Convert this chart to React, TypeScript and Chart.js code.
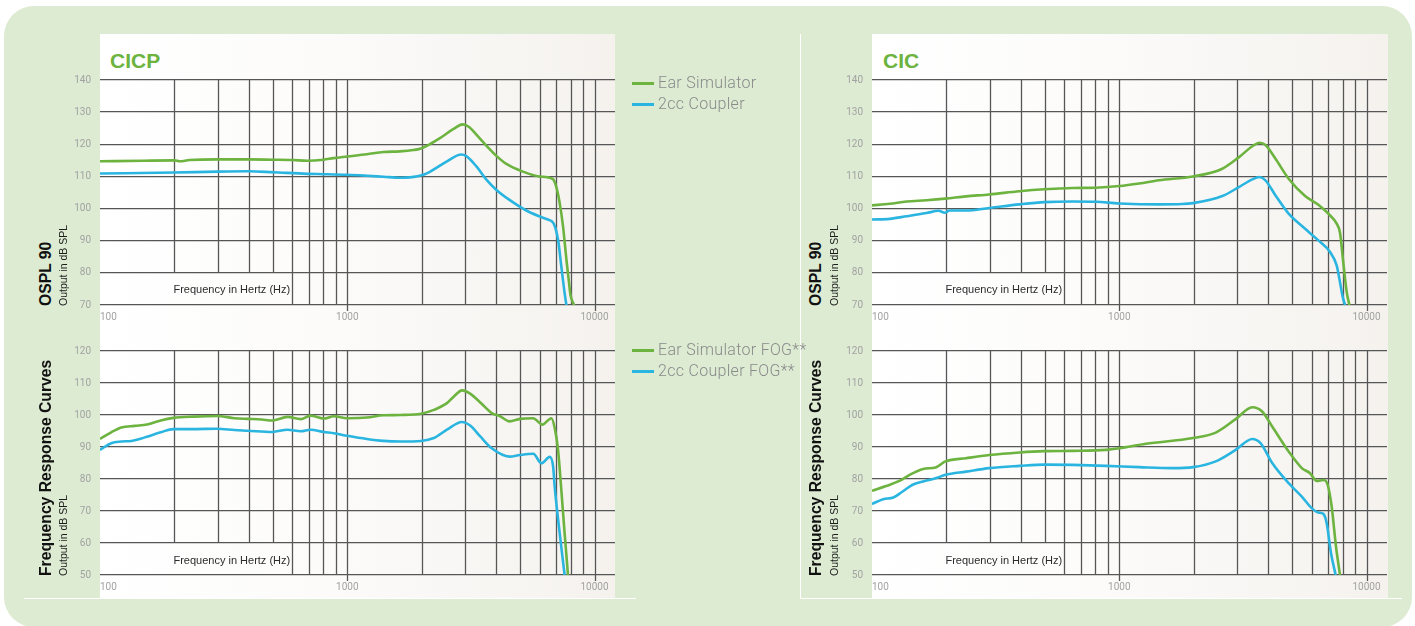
import React, { useEffect, useRef } from "react";
import { Chart, registerables } from "chart.js";

Chart.register(...registerables);

// ---------- data ----------
const X_MIN = 100;
const X_MAX = 12100;
const X_GRID_HZ = [200, 300, 400, 500, 600, 700, 800, 900, 1000, 2000, 3000, 4000, 5000, 6000, 7000, 8000, 9000, 10000];
const X_SHORT_GRID_HZ = [200, 300, 400, 500];
const X_LONG_GRID_HZ = [1000, 10000];
const X_TICK_LABEL_HZ = [100, 1000, 10000];
const OSPL_RANGE = [70, 140];
const FOG_RANGE = [50, 120];
const X_CAPTION = "Frequency in Hertz (Hz)";

// CICP – OSPL 90
const CICP_OSPL_EAR_HZ = [100, 150, 200, 210, 230, 300, 400, 500, 600, 690, 800, 880, 1000, 1200, 1400, 1630, 1850, 1970, 2200, 2370, 2680, 2930, 3110, 3300, 3530, 4010, 4400, 5130, 5970, 6780, 7000, 7230, 7460, 7700, 7890, 7990, 8260, 8400];
const CICP_OSPL_EAR_DB = [114.7, 114.9, 115.0, 114.7, 115.1, 115.3, 115.3, 115.2, 115.1, 114.9, 115.2, 115.7, 116.2, 116.9, 117.6, 117.8, 118.2, 118.6, 120.4, 121.9, 124.7, 126.2, 125.4, 123.3, 120.8, 116.4, 113.9, 111.5, 110.0, 109.2, 106.8, 101.7, 94.4, 84.0, 76.8, 73.2, 70.0, 68.5];
const CICP_OSPL_CPL_HZ = [100, 200, 300, 400, 500, 690, 800, 1000, 1200, 1400, 1640, 1790, 2030, 2220, 2520, 2890, 3030, 3330, 3660, 4010, 4530, 5300, 5970, 6470, 6830, 7120, 7340, 7570, 7700, 7800];
const CICP_OSPL_CPL_DB = [110.9, 111.2, 111.5, 111.6, 111.3, 110.8, 110.7, 110.5, 110.2, 109.9, 109.6, 109.7, 110.5, 112.0, 114.6, 116.8, 116.3, 113.1, 108.9, 105.8, 102.7, 99.4, 97.6, 96.6, 95.4, 90.3, 82.0, 73.7, 70.0, 68.5];

// CICP – Frequency response (FOG)
const CICP_FOG_EAR_HZ = [100, 111, 122, 138, 155, 176, 198, 240, 298, 350, 395, 450, 498, 573, 649, 710, 803, 883, 1000, 1200, 1400, 1640, 1990, 2240, 2530, 2700, 2910, 3140, 3450, 3840, 4150, 4530, 5000, 5650, 6150, 6690, 6900, 7120, 7340, 7570, 7810];
const CICP_FOG_EAR_DB = [92.5, 94.6, 96.1, 96.6, 97.0, 98.3, 99.1, 99.5, 99.7, 99.0, 98.8, 98.6, 98.3, 99.4, 98.7, 99.8, 98.9, 99.6, 99.0, 99.2, 99.9, 100.0, 100.4, 101.6, 103.7, 105.8, 107.7, 106.7, 103.9, 100.6, 99.6, 98.0, 98.8, 99.0, 97.0, 99.0, 96.0, 89.1, 76.6, 63.0, 50.0];
const CICP_FOG_CPL_HZ = [100, 111, 122, 134, 146, 156, 176, 198, 240, 298, 350, 395, 498, 573, 649, 710, 803, 883, 1000, 1200, 1400, 1640, 1990, 2240, 2530, 2910, 3140, 3450, 3840, 4530, 4990, 5650, 6100, 6590, 6800, 6900, 7230, 7570];
const CICP_FOG_CPL_DB = [89.1, 91.2, 91.7, 91.9, 92.6, 93.3, 94.6, 95.6, 95.6, 95.7, 95.3, 95.1, 94.7, 95.4, 94.9, 95.4, 94.7, 94.3, 93.5, 92.5, 91.9, 91.7, 91.9, 92.8, 95.4, 97.8, 96.7, 93.3, 89.6, 87.0, 87.5, 87.9, 84.9, 86.9, 83.9, 77.6, 63.0, 50.0];

// CIC – OSPL 90
const CIC_OSPL_EAR_HZ = [100, 118, 138, 166, 198, 240, 298, 395, 498, 649, 803, 1000, 1204, 1446, 1988, 2611, 3050, 3452, 3693, 3902, 4284, 4842, 5645, 6385, 7008, 7571, 7811, 8060, 8316, 8525];
const CIC_OSPL_EAR_DB = [101.0, 101.5, 102.2, 102.6, 103.1, 103.8, 104.4, 105.4, 106.0, 106.4, 106.5, 107.0, 107.8, 108.8, 110.0, 112.4, 116.0, 119.4, 120.5, 119.8, 115.5, 109.3, 103.9, 101.2, 98.4, 95.3, 92.5, 83.0, 74.0, 70.0];
const CIC_OSPL_CPL_HZ = [100, 118, 138, 166, 186, 197, 206, 240, 298, 395, 498, 649, 803, 1000, 1446, 1795, 1988, 2611, 3050, 3452, 3693, 3902, 4284, 4842, 5645, 6385, 7117, 7571, 7811, 8011, 8187];
const CIC_OSPL_CPL_DB = [96.6, 96.8, 97.6, 98.6, 99.3, 98.7, 99.4, 99.4, 100.2, 101.3, 102.0, 102.2, 102.1, 101.6, 101.3, 101.4, 101.7, 103.9, 106.7, 109.1, 109.8, 108.8, 104.1, 98.4, 93.7, 90.1, 86.5, 82.3, 77.1, 72.5, 70.0];

// CIC – Frequency response (FOG)
const CIC_FOG_EAR_HZ = [100, 114, 129, 142, 161, 182, 198, 240, 298, 395, 498, 649, 883, 1000, 1281, 1988, 2456, 2956, 3452, 3784, 4154, 4842, 5474, 5911, 6288, 6690, 6965, 7228, 7525, 7811];
const CIC_FOG_EAR_DB = [76.3, 77.8, 79.4, 81.3, 83.1, 83.7, 85.5, 86.5, 87.5, 88.3, 88.7, 88.8, 89.1, 89.6, 91.0, 92.8, 94.5, 98.7, 102.4, 101.1, 96.4, 88.6, 83.4, 81.8, 79.4, 79.7, 78.2, 71.4, 58.9, 50.0];
const CIC_FOG_CPL_HZ = [100, 111, 122, 133, 146, 161, 182, 198, 240, 298, 395, 498, 649, 883, 1204, 1636, 1988, 2456, 2956, 3452, 3727, 4154, 4842, 5474, 6003, 6385, 6690, 6900, 7184, 7501];
const CIC_FOG_CPL_DB = [72.2, 73.7, 74.2, 76.1, 78.2, 79.2, 80.3, 81.3, 82.3, 83.4, 84.1, 84.5, 84.4, 84.1, 83.7, 83.4, 83.7, 85.5, 89.1, 92.5, 91.2, 85.0, 78.7, 74.5, 70.9, 69.5, 69.1, 66.2, 56.8, 50.0];

const LEGEND_TOP = ["Ear Simulator", "2cc Coupler"];
const LEGEND_BOTTOM = ["Ear Simulator FOG**", "2cc Coupler FOG**"];

// ---------- styles ----------
const GREEN = "#6cb33f";
const BLUE = "#2ab5e0";
const GRID = "#565656";
const TICK = "#a2a2a2";
const PANEL_BG = "linear-gradient(90deg, #ffffff 0%, #fcfbfa 45%, #f5f2ee 100%)";
const OUTER_BG = "#ddebd3";
const TICK_FONT = { family: "Roboto, 'DejaVu Sans', sans-serif", size: 10 };

const PLOT_W = 515;
const AXIS_W = 40;
const AXIS_H = 20;
const PAD_TOP = 18;
const PAD_RIGHT = 25;

const logGridPlugin = {
  id: "logGrid",
  beforeDatasetsDraw(chart: any) {
    const { ctx, chartArea, scales } = chart;
    const x = scales.x;
    const y = scales.y;
    const yMin = y.min;
    const shortBottom = y.getPixelForValue(yMin + 10);
    ctx.save();
    ctx.strokeStyle = GRID;
    ctx.lineWidth = 1.3;
    X_GRID_HZ.forEach((hz) => {
      const px = Math.round(x.getPixelForValue(hz)) + 0.5;
      let bottom = chartArea.bottom;
      if (X_SHORT_GRID_HZ.includes(hz)) bottom = shortBottom;
      if (X_LONG_GRID_HZ.includes(hz)) bottom = chartArea.bottom + 6;
      ctx.beginPath();
      ctx.moveTo(px, chartArea.top);
      ctx.lineTo(px, bottom);
      ctx.stroke();
    });
    ctx.fillStyle = "#2b2b2b";
    ctx.font = "11px 'Liberation Sans', Arial, sans-serif";
    ctx.textAlign = "left";
    ctx.textBaseline = "middle";
    const cy = (y.getPixelForValue(yMin) + shortBottom) / 2 + 1.5;
    ctx.fillText(X_CAPTION, x.getPixelForValue(200) - 1, cy);
    ctx.restore();
  },
};

type Series = { label: string; hz: number[]; db: number[]; color: string };

function FreqChart(props: { left: number; top: number; plotH: number; range: number[]; series: Series[] }) {
  const ref = useRef<HTMLCanvasElement>(null);
  const width = AXIS_W + PLOT_W + PAD_RIGHT;
  const height = PAD_TOP + props.plotH + AXIS_H;
  useEffect(() => {
    if (!ref.current) return;
    const chart = new Chart(ref.current, {
      type: "line",
      data: {
        datasets: props.series.map((s) => ({
          label: s.label,
          data: s.hz.map((hz, i) => ({ x: hz, y: s.db[i] })),
          borderColor: s.color,
          borderWidth: 2.6,
          pointRadius: 0,
          fill: false,
          cubicInterpolationMode: "monotone",
          clip: 0,
        })),
      },
      options: {
        animation: false,
        responsive: false,
        maintainAspectRatio: false,
        events: [],
        layout: { padding: { top: PAD_TOP, right: PAD_RIGHT, left: 0, bottom: 0 } },
        plugins: { legend: { display: false }, tooltip: { enabled: false } },
        scales: {
          x: {
            type: "logarithmic",
            min: X_MIN,
            max: X_MAX,
            afterBuildTicks: (scale: any) => {
              scale.ticks = [X_MIN, ...X_GRID_HZ, X_MAX].map((v) => ({ value: v }));
            },
            afterFit: (scale: any) => {
              scale.height = AXIS_H;
            },
            ticks: {
              autoSkip: false,
              maxRotation: 0,
              minRotation: 0,
              align: "inner",
              padding: 6,
              color: TICK,
              font: TICK_FONT,
              callback: (v: any) => (X_TICK_LABEL_HZ.includes(Number(v)) ? String(v) : ""),
            },
            grid: { display: false, drawTicks: false },
            border: { display: false },
          },
          y: {
            min: props.range[0],
            max: props.range[1],
            afterFit: (scale: any) => {
              scale.width = AXIS_W;
            },
            ticks: { stepSize: 10, padding: 9, color: TICK, font: TICK_FONT },
            grid: { color: GRID, lineWidth: 1.3, drawTicks: false },
            border: { display: false },
          },
        },
      } as any,
      plugins: [logGridPlugin],
    });
    return () => chart.destroy();
  }, []);
  return (
    <canvas
      ref={ref}
      width={width}
      height={height}
      style={{ position: "absolute", left: props.left - AXIS_W, top: props.top - PAD_TOP, width, height }}
    />
  );
}

function VText(props: { text: string; cx: number; bottom: number; size: number; bold?: boolean; lh: number; color: string }) {
  return (
    <div
      style={{
        position: "absolute",
        left: props.cx - props.lh / 2,
        top: props.bottom,
        height: props.lh,
        lineHeight: props.lh + "px",
        fontSize: props.size,
        fontWeight: props.bold ? 700 : 400,
        fontFamily: "'Liberation Sans', Arial, sans-serif",
        color: props.color,
        whiteSpace: "nowrap",
        transform: "rotate(-90deg)",
        transformOrigin: "left top",
      }}
    >
      {props.text}
    </div>
  );
}

function LegendItem(props: { text: string; color: string; cy: number }) {
  return (
    <div
      style={{
        position: "absolute",
        left: 632,
        top: props.cy - 10,
        height: 20,
        display: "flex",
        alignItems: "center",
        whiteSpace: "nowrap",
      }}
    >
      <div style={{ width: 22, height: 3, background: props.color, marginRight: 4 }} />
      <span
        style={{
          fontFamily: "Roboto, 'DejaVu Sans', sans-serif",
          fontWeight: 300,
          fontSize: 16,
          letterSpacing: 0.3,
          color: "#8a8a8a",
          lineHeight: "20px",
        }}
      >
        {props.text}
      </span>
    </div>
  );
}

export default function App() {
  const titleStyle: React.CSSProperties = {
    position: "absolute",
    top: 50,
    fontFamily: "'Liberation Sans', Arial, sans-serif",
    fontWeight: 700,
    fontSize: 21,
    lineHeight: "21px",
    color: GREEN,
  };
  return (
    <div style={{ position: "absolute", left: 0, top: 0, width: 1415, height: 626, overflow: "hidden", background: "#ffffff" }}>
      <div style={{ position: "absolute", left: 4, top: 6, width: 1408, height: 621, borderRadius: 30, background: OUTER_BG }} />
      <div style={{ position: "absolute", left: 100, top: 34, width: 515, height: 564, background: PANEL_BG }} />
      <div style={{ position: "absolute", left: 872, top: 34, width: 516, height: 564, background: PANEL_BG }} />
      <div style={{ position: "absolute", left: 24, top: 598, width: 612, height: 1, background: "#ffffff" }} />
      <div style={{ position: "absolute", left: 800, top: 34, width: 1, height: 565, background: "#ffffff" }} />
      <div style={{ position: "absolute", left: 800, top: 598, width: 602, height: 1, background: "#ffffff" }} />

      <div style={{ ...titleStyle, left: 110 }}>CICP</div>
      <div style={{ ...titleStyle, left: 883 }}>CIC</div>

      <FreqChart
        left={100}
        top={80}
        plotH={225}
        range={OSPL_RANGE}
        series={[
          { label: LEGEND_TOP[0], hz: CICP_OSPL_EAR_HZ, db: CICP_OSPL_EAR_DB, color: GREEN },
          { label: LEGEND_TOP[1], hz: CICP_OSPL_CPL_HZ, db: CICP_OSPL_CPL_DB, color: BLUE },
        ]}
      />
      <FreqChart
        left={100}
        top={351}
        plotH={224}
        range={FOG_RANGE}
        series={[
          { label: LEGEND_BOTTOM[0], hz: CICP_FOG_EAR_HZ, db: CICP_FOG_EAR_DB, color: GREEN },
          { label: LEGEND_BOTTOM[1], hz: CICP_FOG_CPL_HZ, db: CICP_FOG_CPL_DB, color: BLUE },
        ]}
      />
      <FreqChart
        left={872}
        top={80}
        plotH={225}
        range={OSPL_RANGE}
        series={[
          { label: LEGEND_TOP[0], hz: CIC_OSPL_EAR_HZ, db: CIC_OSPL_EAR_DB, color: GREEN },
          { label: LEGEND_TOP[1], hz: CIC_OSPL_CPL_HZ, db: CIC_OSPL_CPL_DB, color: BLUE },
        ]}
      />
      <FreqChart
        left={872}
        top={351}
        plotH={224}
        range={FOG_RANGE}
        series={[
          { label: LEGEND_BOTTOM[0], hz: CIC_FOG_EAR_HZ, db: CIC_FOG_EAR_DB, color: GREEN },
          { label: LEGEND_BOTTOM[1], hz: CIC_FOG_CPL_HZ, db: CIC_FOG_CPL_DB, color: BLUE },
        ]}
      />

      <VText text="OSPL 90" cx={45.5} bottom={306} size={15.7} bold lh={18} color="#111111" />
      <VText text="Output in dB SPL" cx={62.5} bottom={306} size={10.5} lh={12} color="#1c1c1c" />
      <VText text="Frequency Response Curves" cx={45.5} bottom={576} size={15.7} bold lh={18} color="#111111" />
      <VText text="Output in dB SPL" cx={62.5} bottom={576} size={10.5} lh={12} color="#1c1c1c" />
      <VText text="OSPL 90" cx={815.5} bottom={306} size={15.7} bold lh={18} color="#111111" />
      <VText text="Output in dB SPL" cx={834} bottom={306} size={10.5} lh={12} color="#1c1c1c" />
      <VText text="Frequency Response Curves" cx={815.5} bottom={576} size={15.7} bold lh={18} color="#111111" />
      <VText text="Output in dB SPL" cx={834} bottom={576} size={10.5} lh={12} color="#1c1c1c" />

      <LegendItem text={LEGEND_TOP[0]} color={GREEN} cy={83} />
      <LegendItem text={LEGEND_TOP[1]} color={BLUE} cy={104} />
      <LegendItem text={LEGEND_BOTTOM[0]} color={GREEN} cy={350} />
      <LegendItem text={LEGEND_BOTTOM[1]} color={BLUE} cy={371} />
    </div>
  );
}
